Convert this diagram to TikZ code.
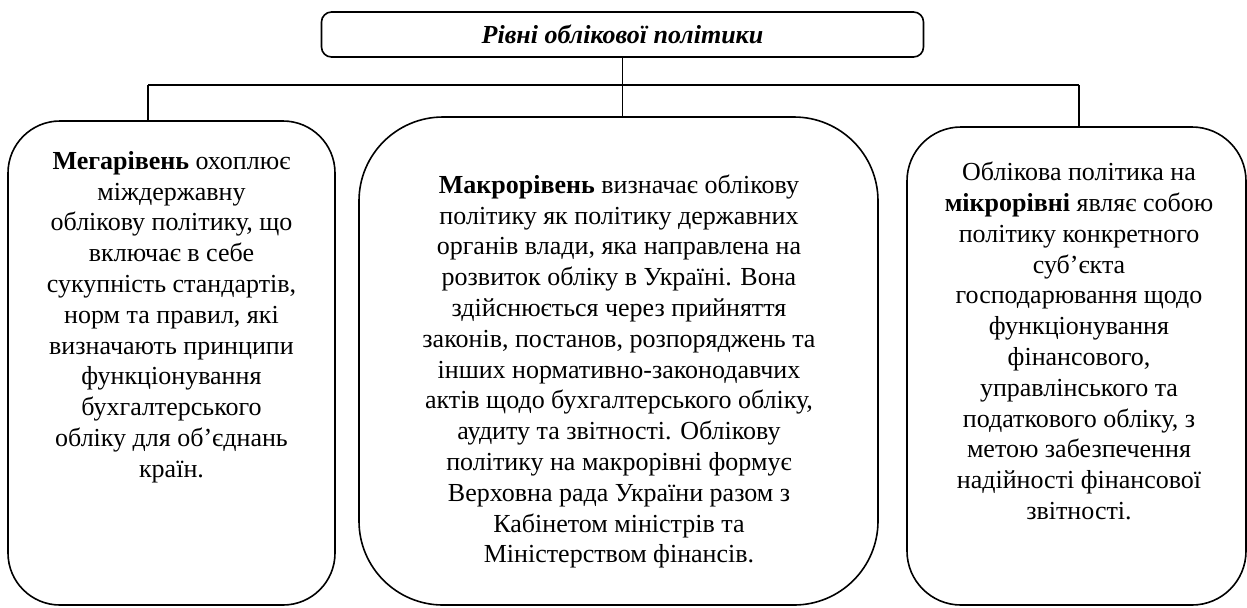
\documentclass[tikz,border=0pt]{standalone}
\usepackage{fontspec}
\setmainfont{Liberation Serif}
\usetikzlibrary{calc}
\tikzset{
  levelbox/.style={draw, line width=0.8pt, inner sep=0pt},
  leveltext/.style={align=center, inner sep=0pt, font=\fontsize{13}{15.4}\selectfont},
  link/.style={line width=0.8pt}
}

\begin{document}
\begin{tikzpicture}[x=0.5pt, y=-0.5pt]
  \useasboundingbox (0,0) rectangle (1247,607);
  \node[levelbox, rounded corners=5pt, minimum width=301pt, minimum height=22.5pt,
        font=\fontsize{13}{15.4}\selectfont\bfseries\itshape] (title) at (622.5,34.5)
        {Рівні облікової політики};
  % three levels
  \node[levelbox, rounded corners=26pt, minimum width=163.5pt, minimum height=242pt] (mega) at (171.5,363) {};
  \node[levelbox, rounded corners=42pt, minimum width=259.5pt, minimum height=244pt] (makro) at (618.5,361) {};
  \node[levelbox, rounded corners=27pt, minimum width=169.5pt, minimum height=239pt] (mikro) at (1076.5,366) {};
  \node[leveltext] (megatext) at (171.5,317) {\textbf{Мегарівень} охоплює\\ міждержавну\\ облікову політику, що\\
    включає в себе\\ сукупність стандартів,\\ норм та правил, які\\ визначають принципи\\
    функціонування\\ бухгалтерського\\ обліку для об’єднань\\ країн.};
  \node[leveltext] (makrotext) at (619,371.5) {\textbf{Макрорівень} визначає облікову\\ політику як політику державних\\
    органів влади, яка направлена на\\ розвиток обліку в Україні. Вона\\ здійснюється через прийняття\\
    законів, постанов, розпоряджень та\\ інших нормативно-законодавчих\\ актів щодо бухгалтерського обліку,\\
    аудиту та звітності. Облікову\\ політику на макрорівні формує\\ Верховна рада України разом з\\
    Кабінетом міністрів та\\ Міністерством фінансів.};
  \node[leveltext] (mikrotext) at (1079,341) {Облікова політика на\\ \textbf{мікрорівні} являє собою\\
    політику конкретного\\ суб’єкта\\ господарювання щодо\\ функціонування\\ фінансового,\\
    управлінського та\\ податкового обліку, з\\ метою забезпечення\\ надійності фінансової\\ звітності.};
  % connectors
  \coordinate (busL) at (148,85);
  \coordinate (busR) at (1079,85);
  \draw[link] (busL) -- (busR);
  \draw[link] (title.south) -- (title.south |- makro.north);
  \draw[link] (busL) -- (busL |- mega.north);
  \draw[link] (busR) -- (busR |- mikro.north);
\end{tikzpicture}
\end{document}
